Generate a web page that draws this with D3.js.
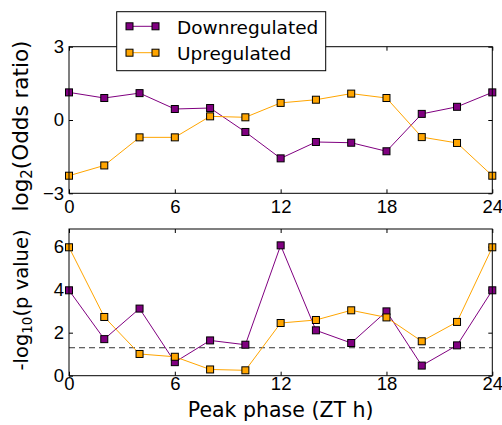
<!DOCTYPE html>
<html>
<head>
<meta charset="utf-8">
<script src="https://cdn.jsdelivr.net/npm/d3@7"></script>
<style>
  body { margin: 0; background: #fff; }
  svg { display: block; font-family: "DejaVu Sans", sans-serif; }
  .tick line { stroke: #000; }
</style>
</head>
<body>
<svg id="chart" width="502" height="425"></svg>
<script>
// peak phase (ZT h)
const phases = [0, 2, 4, 6, 8, 10, 12, 14, 16, 18, 20, 22, 24];
const xTicks = [0, 6, 12, 18, 24];

// log2(odds ratio)
const oddsDown = [1.13, 0.90, 1.10, 0.45, 0.49, -0.49, -1.57, -0.90, -0.93, -1.28, 0.25, 0.54, 1.13];
const oddsUp = [-2.28, -1.86, -0.71, -0.71, 0.15, 0.11, 0.70, 0.83, 1.08, 0.90, -0.70, -0.94, -2.28];

// -log10(p value)
const pDown = [3.97, 1.70, 3.12, 0.63, 1.64, 1.44, 6.06, 2.11, 1.52, 2.99, 0.47, 1.41, 3.97];
const pUp = [5.97, 2.73, 1.01, 0.88, 0.29, 0.25, 2.45, 2.59, 3.04, 2.71, 1.60, 2.50, 5.97];
const pThreshold = 1.30;

const oddsTicks = [-3, 0, 3];
const pTicks = [0, 2, 4, 6];

const seriesNames = ["Downregulated", "Upregulated"];
const seriesColors = ["#800080", "#ffa500"];

const svg = d3.select("#chart");
const left = 69, right = 492.3;
const fmt = d3.format("d");

const x = d3.scaleLinear().domain([0, 24]).range([left, right]);
const yTop = d3.scaleLinear().domain([-3, 3]).range([193.3, 46.7]);
const yBot = d3.scaleLinear().domain([0, 6.82]).range([375.7, 229]);

function drawPanel(y, yTickVals, series, xPad) {
    const [y0, y1] = y.range();
    const g = svg.append("g");

    // ticks pointing inward on all four sides
    g.append("g")
        .attr("transform", `translate(0,${y0})`)
        .call(d3.axisBottom(x).tickValues(xTicks).tickSize(-4).tickPadding(xPad).tickFormat(fmt))
        .call(a => a.select(".domain").remove())
        .selectAll("text").style("font-size", "18.5px").attr("fill", "#000");
    g.append("g")
        .attr("transform", `translate(0,${y1})`)
        .call(d3.axisTop(x).tickValues(xTicks).tickSize(-4).tickFormat(""))
        .call(a => a.select(".domain").remove());
    g.append("g")
        .attr("transform", `translate(${left},0)`)
        .call(d3.axisLeft(y).tickValues(yTickVals).tickSize(-4).tickPadding(5).tickFormat(fmt))
        .call(a => a.select(".domain").remove())
        .selectAll("text").style("font-size", "18.5px").attr("fill", "#000");
    g.append("g")
        .attr("transform", `translate(${right},0)`)
        .call(d3.axisRight(y).tickValues(yTickVals).tickSize(-4).tickFormat(""))
        .call(a => a.select(".domain").remove());

    const line = d3.line().x((d, i) => x(phases[i])).y(d => y(d));

    series.forEach((vals, k) => {
        g.append("path")
            .datum(vals)
            .attr("d", line)
            .attr("fill", "none")
            .attr("stroke", seriesColors[k])
            .attr("stroke-width", 1);
        g.selectAll(null)
            .data(vals)
            .enter()
            .append("rect")
            .attr("x", (d, i) => x(phases[i]) - 3.5)
            .attr("y", d => y(d) - 3.5)
            .attr("width", 7)
            .attr("height", 7)
            .attr("fill", seriesColors[k])
            .attr("stroke", "#000")
            .attr("stroke-width", 1);
    });

    g.append("rect")
        .attr("x", left)
        .attr("y", y1)
        .attr("width", right - left)
        .attr("height", y0 - y1)
        .attr("fill", "none")
        .attr("stroke", "#000")
        .attr("stroke-width", 1);
    return g;
}

drawPanel(yTop, oddsTicks, [oddsDown, oddsUp], 6.4);
const bottom = drawPanel(yBot, pTicks, [pDown, pUp], 1.5);

bottom.insert("line", "path")
    .attr("x1", left).attr("x2", right)
    .attr("y1", yBot(pThreshold)).attr("y2", yBot(pThreshold))
    .attr("stroke", "#333")
    .attr("stroke-width", 1)
    .attr("stroke-dasharray", "6,4");

// axis labels
const lab1 = svg.append("text")
    .attr("transform", "translate(28,126) rotate(-90)")
    .attr("text-anchor", "middle")
    .style("font-size", "21.5px");
lab1.append("tspan").text("log");
lab1.append("tspan").text("2").style("font-size", "15px").attr("dy", 4);
lab1.append("tspan").text("(Odds ratio)").attr("dy", -4);

const lab2 = svg.append("text")
    .attr("transform", "translate(28,300) rotate(-90)")
    .attr("text-anchor", "middle")
    .style("font-size", "19.5px");
lab2.append("tspan").text("-log");
lab2.append("tspan").text("10").style("font-size", "13.5px").attr("dy", 4);
lab2.append("tspan").text("(p value)").attr("dy", -4);

svg.append("text")
    .attr("x", (left + right) / 2)
    .attr("y", 416.5)
    .attr("text-anchor", "middle")
    .style("font-size", "20.5px")
    .text("Peak phase (ZT h)");

// legend
const legend = svg.append("g");
legend.append("rect")
    .attr("x", 116.7).attr("y", 11.7)
    .attr("width", 209).attr("height", 59)
    .attr("fill", "#fff")
    .attr("stroke", "#000")
    .attr("stroke-width", 1);
seriesNames.forEach((name, k) => {
    const ly = 26.3 + k * 26.4;
    legend.append("line")
        .attr("x1", 129.5).attr("x2", 155.5)
        .attr("y1", ly).attr("y2", ly)
        .attr("stroke", seriesColors[k]);
    [129.5, 155.5].forEach(mx => {
        legend.append("rect")
            .attr("x", mx - 3.5).attr("y", ly - 3.5)
            .attr("width", 7).attr("height", 7)
            .attr("fill", seriesColors[k])
            .attr("stroke", "#000");
    });
    legend.append("text")
        .attr("x", 177)
        .attr("y", ly + 7.2)
        .style("font-size", "18.5px")
        .text(name);
});
</script>
</body>
</html>
